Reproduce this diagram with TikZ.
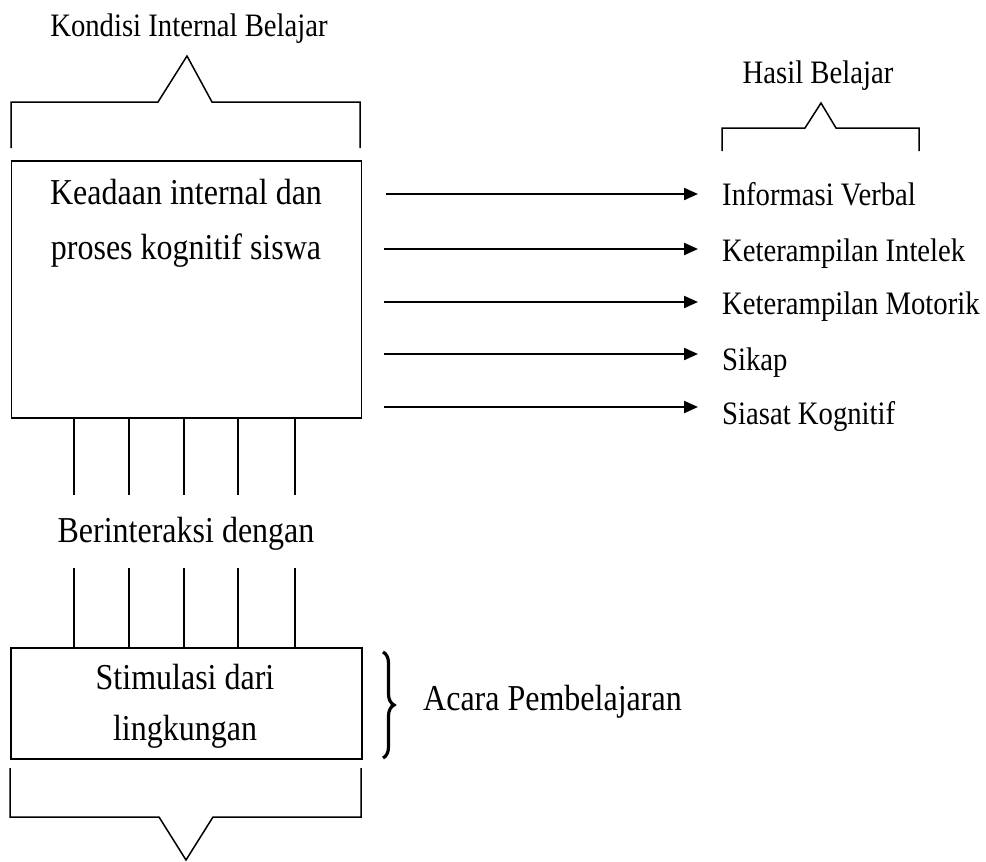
\documentclass[tikz,border=0pt]{standalone}
\usepackage{fontspec}
\setmainfont{Liberation Serif}
\usetikzlibrary{arrows.meta,decorations.pathreplacing}
\newcommand\vstr[1]{\scalebox{1}[1.14]{#1}}
\begin{document}
\begin{tikzpicture}[x=1pt,y=-1pt,
  line/.style={line width=1.5pt},
  boxstyle/.style={draw,line width=1.5pt,rectangle,inner sep=0pt,anchor=north west},
  arr/.style={line width=2.2pt,-{Triangle[length=14pt,width=12pt]}},
  smalltext/.style={font=\fontsize{28.7}{34}\selectfont,inner sep=0pt},
  bigtext/.style={font=\fontsize{32}{38}\selectfont,inner sep=0pt},
  brk/.style={line width=1.5pt,line join=miter}]
\useasboundingbox (0,0) rectangle (986,862);

% top label and bracket
\node[smalltext,anchor=base] (kib) at (189,36) {\vstr{Kondisi Internal Belajar}};
\draw[brk] (11,148) -- (11,102) -- (158,102) -- (187,56) -- (212,102) -- (360,102) -- (360,148);

% main box
\node[boxstyle,minimum width=350pt,minimum height=257pt] (box1) at (10.5,160) {};
\node[bigtext,anchor=base] (k1) at (186,204) {\vstr{Keadaan internal dan}};
\node[bigtext,anchor=base] (k2) at (186,259) {\vstr{proses kognitif siswa}};

% Hasil belajar
\node[smalltext,anchor=base] (hb) at (818,83) {\vstr{Hasil Belajar}};
\draw[brk] (722,151) -- (722,128) -- (805,128) -- (821,103) -- (836,128) -- (919,128) -- (919,151);

% arrows and outcomes
\node[smalltext,anchor=base west] (o1) at (722,205) {\vstr{Informasi Verbal}};
\node[smalltext,anchor=base west] (o2) at (722,261) {\vstr{Keterampilan Intelek}};
\node[smalltext,anchor=base west] (o3) at (722,314) {\vstr{Keterampilan Motorik}};
\node[smalltext,anchor=base west] (o4) at (722,370) {\vstr{Sikap}};
\node[smalltext,anchor=base west] (o5) at (722,424) {\vstr{Siasat Kognitif}};
\coordinate (s1) at (386,194); \coordinate (e1) at (698,194);
\coordinate (s2) at (384,249); \coordinate (e2) at (698,249);
\coordinate (s3) at (384,302); \coordinate (e3) at (698,302);
\coordinate (s4) at (384,354); \coordinate (e4) at (698,354);
\coordinate (s5) at (384,407); \coordinate (e5) at (698,407);
\foreach \i in {1,...,5} {\draw[arr] (s\i) -- (e\i);}

% middle label
\node[bigtext,anchor=base] (bd) at (186,542) {\vstr{Berinteraksi dengan}};

% lower box
\node[boxstyle,minimum width=351pt,minimum height=111pt] (box2) at (10,647) {};
\node[bigtext,anchor=base] (st1) at (185,689) {\vstr{Stimulasi dari}};
\node[bigtext,anchor=base] (st2) at (185,740) {\vstr{lingkungan}};

% vertical connectors
\foreach \x [count=\i] in {74,129,184,238,295} {
  \coordinate (ua\i) at (\x,495);
  \coordinate (lb\i) at (\x,568);
  \draw[line] (ua\i |- box1.south) -- (ua\i);
  \draw[line] (lb\i) -- (lb\i |- box2.north);
}

% brace and Acara Pembelajaran
\coordinate (bt) at (383,652);
\coordinate (bb) at (383,758);
\draw[line width=3.2pt,decorate,decoration={brace,amplitude=11pt}] (bt) -- (bb);
\node[bigtext,anchor=base west] (ap) at (423,710) {\vstr{Acara Pembelajaran}};

% bottom bracket
\draw[brk] (10,768) -- (10,817) -- (159,817) -- (186,860) -- (213,817) -- (361,817) -- (361,768);
\end{tikzpicture}
\end{document}
